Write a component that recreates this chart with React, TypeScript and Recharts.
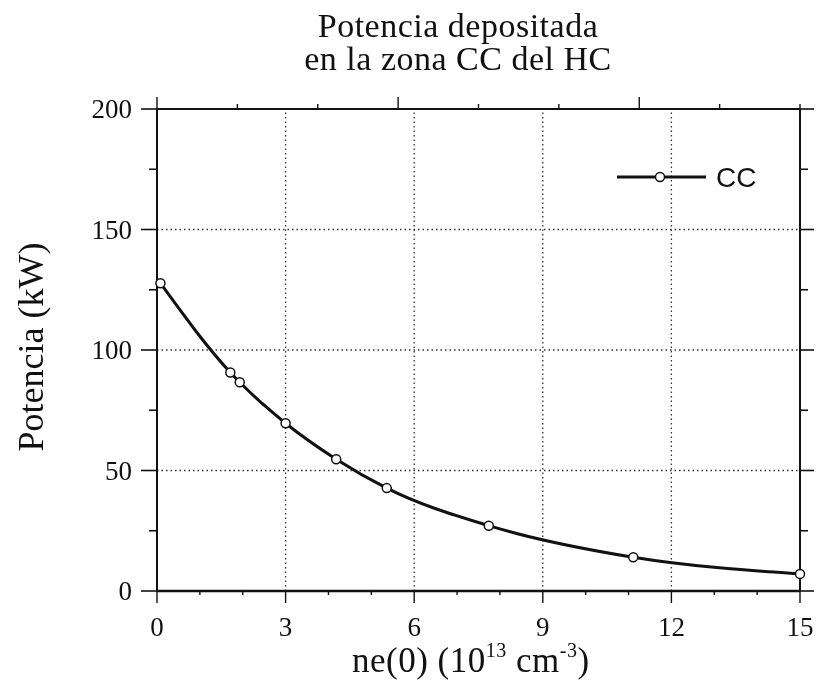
import React from "react";
import {
  LineChart,
  Line,
  XAxis,
  YAxis,
  ReferenceLine,
  Legend,
} from "recharts";

// ne(0) in units of 10^13 cm^-3
const densities = [0.08, 1.71, 1.93, 3.0, 4.18, 5.36, 7.74, 11.11, 15];
// deposited power in the CC zone (kW)
const powerCC = [127.7, 90.7, 86.6, 69.6, 54.7, 42.7, 27.1, 14.0, 7.1];

const xTicks = [0, 1, 2, 3, 4, 5, 6, 7, 8, 9, 10, 11, 12, 13, 14, 15];
const yTicks = [0, 25, 50, 75, 100, 125, 150, 175, 200];
const xGrid = [3, 6, 9, 12];
const yGrid = [50, 100, 150];
const titleLines = ["Potencia depositada", "en la zona CC del HC"];

const data = densities.map((x, i) => ({ x, cc: powerCC[i] }));

const INK = "#111";
const SERIF = '"Liberation Serif", "DejaVu Serif", serif';
const SANS = '"Liberation Sans", Arial, sans-serif';

function LeftTick(p: any) {
  const { x, y, payload } = p;
  const major = payload.value % 50 === 0;
  return (
    <g>
      <line x1={x - (major ? 16 : 8)} x2={x} y1={y} y2={y} stroke={INK} strokeWidth={1.6} />
      {major && (
        <text x={x - 25} y={y} dy="0.35em" textAnchor="end" fontFamily={SERIF} fontSize={27} fill={INK}>
          {payload.value}
        </text>
      )}
    </g>
  );
}

function RightTick(p: any) {
  const { x, y, payload } = p;
  const major = payload.value % 50 === 0;
  return <line x1={x} x2={x + (major ? 14 : 8)} y1={y} y2={y} stroke={INK} strokeWidth={1.6} />;
}

function BottomTick(p: any) {
  const { x, y, payload } = p;
  const major = payload.value % 3 === 0;
  return (
    <g>
      <line x1={x} x2={x} y1={y} y2={y + (major ? 12 : 4)} stroke={INK} strokeWidth={1.4} />
      {major && (
        <text x={x} y={y + 45} textAnchor="middle" fontFamily={SERIF} fontSize={27} fill={INK}>
          {payload.value}
        </text>
      )}
    </g>
  );
}

function TopTick(p: any) {
  const { x, y, payload } = p;
  const major = payload.value % 3 === 0;
  return <line x1={x} x2={x} y1={y} y2={y - (major ? 12 : 5)} stroke={INK} strokeWidth={1.4} />;
}

function YTitle() {
  return (
    <text
      x={35}
      y={339}
      transform="rotate(-90, 35, 339)"
      textAnchor="middle"
      fontFamily={SERIF}
      fontSize={36}
      fill={INK}
    >
      Potencia (kW)
    </text>
  );
}

function XTitle() {
  return (
    <text x={344} y={664} fontFamily={SERIF} fontSize={35} fill={INK} letterSpacing={0.5}>
      <tspan>ne(0) (10</tspan>
      <tspan dy={-15} fontSize={20}>13</tspan>
      <tspan dy={15}> cm</tspan>
      <tspan dy={-15} fontSize={20}>-3</tspan>
      <tspan dy={15}>)</tspan>
    </text>
  );
}

function LegendBox() {
  return (
    <svg width={170} height={36}>
      <line x1={0} x2={89} y1={18} y2={18} stroke={INK} strokeWidth={3} />
      <circle cx={43} cy={18} r={4.5} fill="#fff" stroke={INK} strokeWidth={1.5} />
      <text x={99} y={18} dy="0.36em" fontFamily={SANS} fontSize={28} fill={INK}>
        CC
      </text>
    </svg>
  );
}

export default function App() {
  return (
    <div style={{ position: "fixed", left: 8, top: 8, width: 809, height: 678, background: "#fff" }}>
      {titleLines.map((t, i) => (
        <div
          key={t}
          style={{
            position: "absolute",
            left: 150,
            top: 1 + i * 33,
            width: 600,
            textAlign: "center",
            fontFamily: SERIF,
            fontSize: 34,
            lineHeight: "33px",
            letterSpacing: 0.5,
            color: INK,
            whiteSpace: "nowrap",
          }}
        >
          {t}
        </div>
      ))}
      <LineChart
        width={809}
        height={678}
        data={data}
        margin={{ top: 71, right: 0, bottom: 0, left: 49 }}
      >
        <XAxis
          dataKey="x"
          type="number"
          domain={[0, 15]}
          ticks={xTicks}
          interval={0}
          height={95}
          tickSize={0}
          tickMargin={0}
          tick={BottomTick}
          axisLine={{ stroke: INK, strokeWidth: 2.6 }}
          label={XTitle}
        />
        <XAxis
          xAxisId="top"
          orientation="top"
          type="number"
          domain={[0, 15]}
          allowDataOverflow
          ticks={xTicks}
          interval={0}
          height={30}
          tickSize={0}
          tickMargin={0}
          tick={TopTick}
          axisLine={{ stroke: INK, strokeWidth: 2.2 }}
        />
        <YAxis
          type="number"
          domain={[0, 200]}
          ticks={yTicks}
          interval={0}
          width={100}
          tickSize={0}
          tickMargin={0}
          tick={LeftTick}
          axisLine={{ stroke: INK, strokeWidth: 2 }}
          label={YTitle}
        />
        <YAxis
          yAxisId="right"
          orientation="right"
          type="number"
          domain={[0, 200]}
          allowDataOverflow
          ticks={yTicks}
          interval={0}
          width={17}
          tickSize={0}
          tickMargin={0}
          tick={RightTick}
          axisLine={{ stroke: INK, strokeWidth: 2 }}
        />
        {xGrid.map((v) => (
          <ReferenceLine key={"gx" + v} x={v} stroke="#333" strokeWidth={1.3} strokeDasharray="1.5 3" />
        ))}
        {yGrid.map((v) => (
          <ReferenceLine key={"gy" + v} y={v} stroke="#333" strokeWidth={1.3} strokeDasharray="1.5 3" />
        ))}
        <Legend
          layout="vertical"
          align="center"
          verticalAlign="middle"
          content={LegendBox}
          wrapperStyle={{ left: 609, top: 151, width: 170, height: 36 }}
        />
        <Line
          type="monotone"
          dataKey="cc"
          stroke={INK}
          strokeWidth={3}
          dot={{ r: 4.5, fill: "#fff", stroke: INK, strokeWidth: 1.5 }}
          isAnimationActive={false}
        />
      </LineChart>
    </div>
  );
}
